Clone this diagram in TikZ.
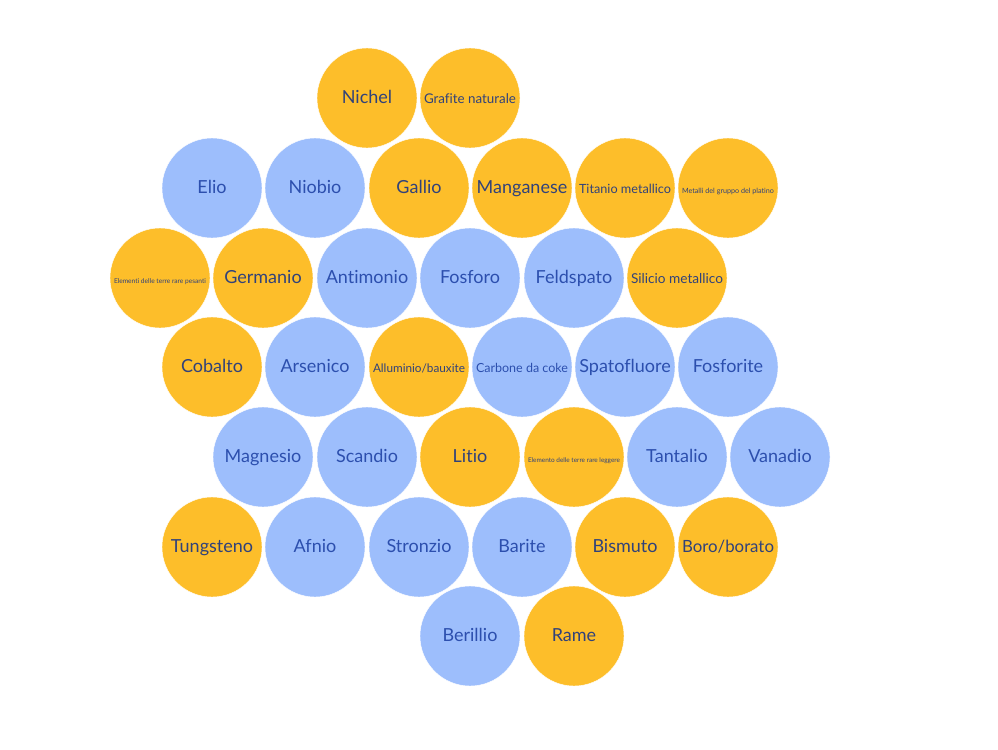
\documentclass[tikz,border=0pt]{standalone}
\usepackage{fontspec}
\setmainfont{Lato}[Ligatures=NoCommon]
\usepackage{graphicx}
\usetikzlibrary{positioning}
\definecolor{goldfill}{HTML}{FDBE2A}
\definecolor{bluefill}{HTML}{9DBEFC}
\definecolor{goldtext}{HTML}{31427A}
\definecolor{bluetext}{HTML}{2C4FAE}
% testo ridotto se più largo del cerchio
\newcommand{\fitlabel}[1]{\sbox0{#1}\ifdim\wd0>69pt\resizebox{69pt}{!}{#1}\else#1\fi}

\begin{document}
\begin{tikzpicture}[x=0.75pt,y=-0.75pt,
  ball/.style={circle,minimum size=75pt,inner sep=0pt,draw=white,line width=0.3pt,
    text height=1.75ex,text depth=0.1ex,font=\fontsize{13.5}{15}\selectfont},
  goldball/.style={ball,fill=goldfill,text=goldtext},
  blueball/.style={ball,fill=bluefill,text=bluetext}]
  \useasboundingbox (0,0) rectangle (998,749);
  % riga 1
  \node[goldball] (nichel) at (367,98) {\fitlabel{Nichel}};
  \node[goldball] (grafite) at (470,98) {\fitlabel{Grafite naturale}};
  % riga 2
  \node[blueball] (elio) at (212,188) {\fitlabel{Elio}};
  \node[blueball] (niobio) at (315,188) {\fitlabel{Niobio}};
  \node[goldball] (gallio) at (419,188) {\fitlabel{Gallio}};
  \node[goldball] (manganese) at (522,188) {\fitlabel{Manganese}};
  \node[goldball] (titanio) at (625,188) {\fitlabel{Titanio metallico}};
  \node[goldball] (platino) at (728,188) {\fitlabel{Metalli del gruppo del platino}};
  % riga 3
  \node[goldball] (pesanti) at (160,278) {\fitlabel{Elementi delle terre rare pesanti}};
  \node[goldball] (germanio) at (263,278) {\fitlabel{Germanio}};
  \node[blueball] (antimonio) at (367,278) {\fitlabel{Antimonio}};
  \node[blueball] (fosforo) at (470,278) {\fitlabel{Fosforo}};
  \node[blueball] (feldspato) at (574,278) {\fitlabel{Feldspato}};
  \node[goldball] (silicio) at (677,278) {\fitlabel{Silicio metallico}};
  % riga 4
  \node[goldball] (cobalto) at (212,367) {\fitlabel{Cobalto}};
  \node[blueball] (arsenico) at (315,367) {\fitlabel{Arsenico}};
  \node[goldball] (alluminio) at (419,367) {\fitlabel{Alluminio/bauxite}};
  \node[blueball] (carbone) at (522,367) {\fitlabel{Carbone da coke}};
  \node[blueball] (spatofluore) at (625,367) {\fitlabel{Spatofluore}};
  \node[blueball] (fosforite) at (728,367) {\fitlabel{Fosforite}};
  % riga 5
  \node[blueball] (magnesio) at (263,457) {\fitlabel{Magnesio}};
  \node[blueball] (scandio) at (367,457) {\fitlabel{Scandio}};
  \node[goldball] (litio) at (470,457) {\fitlabel{Litio}};
  \node[goldball] (leggere) at (574,457) {\fitlabel{Elemento delle terre rare leggere}};
  \node[blueball] (tantalio) at (677,457) {\fitlabel{Tantalio}};
  \node[blueball] (vanadio) at (780,457) {\fitlabel{Vanadio}};
  % riga 6
  \node[goldball] (tungsteno) at (212,547) {\fitlabel{Tungsteno}};
  \node[blueball] (afnio) at (315,547) {\fitlabel{Afnio}};
  \node[blueball] (stronzio) at (419,547) {\fitlabel{Stronzio}};
  \node[blueball] (barite) at (522,547) {\fitlabel{Barite}};
  \node[goldball] (bismuto) at (625,547) {\fitlabel{Bismuto}};
  \node[goldball] (boro) at (728,547) {\fitlabel{Boro/borato}};
  % riga 7
  \node[blueball] (berillio) at (470,636) {\fitlabel{Berillio}};
  \node[goldball] (rame) at (574,636) {\fitlabel{Rame}};
\end{tikzpicture}
\end{document}
